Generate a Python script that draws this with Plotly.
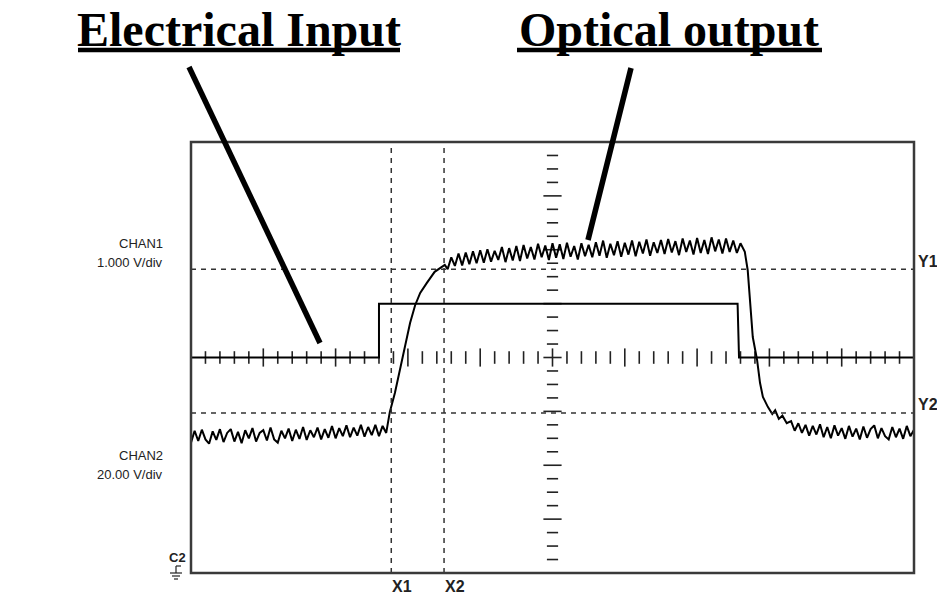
import plotly.graph_objects as go

# scope screen: 10 horizontal divisions, 8 vertical divisions (centre = 0)
elec_t = [0.0, 2.60, 2.60, 7.56, 7.58, 10.0]
elec_v = [0.0, 0.0, 1.0, 1.0, 0.0, 0.0]

# optical trace, noisy baseline before the pulse (t = 0.00 .. 2.70, 0.05 div steps)
opt_pre = [-1.58, -1.36, -1.55, -1.34, -1.52, -1.60, -1.37, -1.53, -1.33, -1.57,
           -1.40, -1.33, -1.56, -1.38, -1.59, -1.35, -1.50, -1.31, -1.56, -1.40,
           -1.35, -1.54, -1.30, -1.52, -1.58, -1.36, -1.50, -1.32, -1.55, -1.34,
           -1.51, -1.29, -1.53, -1.35, -1.48, -1.30, -1.52, -1.33, -1.49, -1.27,
           -1.50, -1.31, -1.46, -1.26, -1.48, -1.30, -1.45, -1.25, -1.47, -1.29,
           -1.44, -1.25, -1.46, -1.27, -1.40]
opt_rise_t = [2.72, 2.75, 2.82, 2.89, 2.96, 3.03, 3.10, 3.17, 3.26, 3.37, 3.51]
opt_rise_v = [-1.25, -1.01, -0.66, -0.23, 0.19, 0.64, 0.97, 1.20, 1.38, 1.59, 1.72]
# plateau (t = 3.55 .. 7.60)
opt_plateau = [1.64, 1.86, 1.70, 1.93, 1.71, 1.95, 1.73, 1.97, 1.75, 1.99,
               1.76, 2.01, 1.78, 1.98, 1.81, 2.05, 1.77, 2.03, 1.80, 2.07,
               1.79, 2.09, 1.84, 2.05, 1.82, 2.11, 1.86, 2.08, 1.81, 2.12,
               1.85, 2.10, 1.83, 2.13, 1.87, 2.07, 1.82, 2.12, 1.88, 2.09,
               1.86, 2.14, 1.89, 2.17, 1.85, 2.11, 1.90, 2.16, 1.87, 2.13,
               1.91, 2.17, 1.88, 2.15, 1.93, 2.19, 1.89, 2.14, 1.94, 2.18,
               1.92, 2.20, 1.95, 2.16, 1.90, 2.21, 1.96, 2.17, 1.91, 2.22,
               1.94, 2.18, 1.92, 2.23, 1.97, 2.19, 1.93, 2.21, 1.96, 2.17,
               1.94, 2.12]
opt_fall_t = [7.66, 7.70, 7.73, 7.77, 7.83, 7.87, 7.91, 7.98, 8.04, 8.08, 8.13, 8.18, 8.24]
opt_fall_v = [1.96, 1.62, 1.01, 0.38, -0.05, -0.47, -0.73, -0.92, -1.05, -0.98, -1.14, -1.08, -1.22]
# tail after the pulse (t = 8.30 .. 10.00)
opt_post = [-1.18, -1.36, -1.22, -1.40, -1.25, -1.45, -1.27, -1.43, -1.24, -1.48,
            -1.29, -1.50, -1.26, -1.45, -1.31, -1.51, -1.27, -1.47, -1.32, -1.52,
            -1.28, -1.49, -1.33, -1.26, -1.50, -1.31, -1.46, -1.52, -1.29, -1.48,
            -1.32, -1.51, -1.27, -1.46, -1.34]

cursor_x = {"X1": 2.77, "X2": 3.50}
cursor_y = {"Y1": 1.64, "Y2": -1.03}


def steps(start, n, dt=0.05):
    return [round(start + i * dt, 3) for i in range(n)]


opt_t = (steps(0.0, len(opt_pre)) + opt_rise_t + steps(3.55, len(opt_plateau))
         + opt_fall_t + steps(8.30, len(opt_post)))
opt_v = opt_pre + opt_rise_v + opt_plateau + opt_fall_v + opt_post

# screen box in page pixels; the page body adds an 8px margin round the figure
OFF = 8
L, R, T, B = 191, 914, 142, 573
def px(x):
    return (x - L) / (R - L)
def py(y):
    return (B - y) / (B - T)


fig = go.Figure()

# centre graticule ticks
h_short = [i * 0.2 for i in range(1, 50) if i % 5]
h_long = [float(i) for i in range(1, 10)]
v_short = [i * 0.25 for i in range(-15, 16) if i % 4]
v_long = [float(i) for i in range(-3, 4)]
tick_style = dict(color="#222", line=dict(color="#222", width=1.6))
fig.add_trace(go.Scatter(x=h_short, y=[0] * len(h_short), mode="markers",
                         marker=dict(symbol="line-ns", size=9, **tick_style)))
fig.add_trace(go.Scatter(x=h_long, y=[0] * len(h_long), mode="markers",
                         marker=dict(symbol="line-ns", size=13, **tick_style)))
fig.add_trace(go.Scatter(x=[5] * len(v_short), y=v_short, mode="markers",
                         marker=dict(symbol="line-ew", size=8, **tick_style)))
fig.add_trace(go.Scatter(x=[5] * len(v_long), y=v_long, mode="markers",
                         marker=dict(symbol="line-ew", size=13, **tick_style)))

fig.add_trace(go.Scatter(x=elec_t, y=elec_v, mode="lines",
                         line=dict(color="black", width=2)))
fig.add_trace(go.Scatter(x=opt_t, y=opt_v, mode="lines",
                         line=dict(color="black", width=2)))

shapes = []
for v in cursor_x.values():
    shapes.append(dict(type="line", xref="x", yref="y", x0=v, x1=v, y0=-4, y1=4,
                       line=dict(color="#333", width=1.5, dash="5px,5px")))
for v in cursor_y.values():
    shapes.append(dict(type="line", xref="x", yref="y", x0=0, x1=10, y0=v, y1=v,
                       line=dict(color="#333", width=1.5, dash="5px,5px")))
shapes.append(dict(type="rect", xref="paper", yref="paper", x0=0, x1=1, y0=0, y1=1,
                   line=dict(color="#3a3a3a", width=2.5)))
# title underlines and pointer lines
for x0, x1 in [(78, 400), (517, 822)]:
    shapes.append(dict(type="line", xref="paper", yref="paper",
                       x0=px(x0), x1=px(x1), y0=py(50), y1=py(50),
                       line=dict(color="black", width=4.5)))
for (x0, y0), (x1, y1) in [((189, 67), (320, 343)), ((631, 68), (588, 240))]:
    shapes.append(dict(type="line", xref="paper", yref="paper",
                       x0=px(x0), x1=px(x1), y0=py(y0), y1=py(y1),
                       line=dict(color="black", width=5.5)))
# ground symbol
for x0, x1, y0, y1 in [(176, 176, 566, 573), (176, 181, 566, 566),
                       (170, 182, 573, 573), (172, 180, 576, 576), (174, 178, 579, 579)]:
    shapes.append(dict(type="line", xref="paper", yref="paper",
                       x0=px(x0), x1=px(x1), y0=py(y0), y1=py(y1),
                       line=dict(color="#222", width=1.2)))

ann = []
title_font = dict(family="Liberation Serif", size=48, color="black")
ann.append(dict(text="<b>Electrical Input</b>", x=px(239), y=py(29), font=title_font))
ann.append(dict(text="<b>Optical output</b>", x=px(669), y=py(29), font=title_font))

chan_font = dict(family="Liberation Sans", size=13, color="#222")
for text, y in [("CHAN1", 243), ("1.000 V/div", 262), ("CHAN2", 455), ("20.00 V/div", 474)]:
    ann.append(dict(text=text, x=px(165), y=py(y), xanchor="right", font=chan_font))

lab_font = dict(family="Liberation Sans", size=16, color="#222")
for name, v in cursor_x.items():
    ann.append(dict(text=f"<b>{name}</b>", x=v, xref="x", y=py(586), xanchor="left",
                    xshift=-1, font=lab_font))
for name, v in cursor_y.items():
    ann.append(dict(text=f"<b>{name}</b>", x=px(916), y=v, yref="y", xanchor="left",
                    yshift=8, font=lab_font))
ann.append(dict(text="<b>C2</b>", x=px(177), y=py(557), font=dict(family="Liberation Sans",
                                                                    size=13, color="#222")))

for a in ann:
    a.setdefault("xref", "paper")
    a.setdefault("yref", "paper")
    a.setdefault("showarrow", False)
    a.setdefault("xanchor", "center")
    a.setdefault("yanchor", "middle")

fig.update_layout(
    width=945 - OFF, height=595 - OFF,
    showlegend=False,
    margin=dict(l=L - OFF, r=945 - R, t=T - OFF, b=595 - B),
    paper_bgcolor="white", plot_bgcolor="white",
    xaxis=dict(range=[0, 10], visible=False, fixedrange=True),
    yaxis=dict(range=[-4, 4], visible=False, fixedrange=True),
    shapes=shapes,
    annotations=ann,
)

fig.write_html("out.html")
